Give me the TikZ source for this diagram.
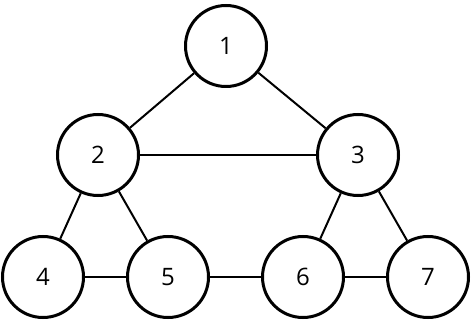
\documentclass[tikz,border=0pt]{standalone}
\usepackage{fontspec}
\setmainfont{Open Sans}
\begin{document}
\begin{tikzpicture}[
  x=1pt, y=-1pt,
  vertex/.style={circle, draw=black, line width=3pt, fill=white, minimum size=81pt, inner sep=0pt, font=\fontsize{24}{28}\selectfont},
  edge/.style={draw=black, line width=2pt}
]
\useasboundingbox (0,0) rectangle (471,320);

% ============================================================
% VERTICES
% ============================================================
\node[vertex] (n1) at (226,46) {1};
\node[vertex] (n2) at (98,155) {2};
\node[vertex] (n3) at (358,155) {3};
\node[vertex] (n4) at (43,277) {4};
\node[vertex] (n5) at (168,277) {5};
\node[vertex] (n6) at (303,277) {6};
\node[vertex] (n7) at (428,277) {7};

% ============================================================
% EDGES
% ============================================================
\begin{scope}[on background layer/.style={}]
\draw[edge] (n1) -- (n2);
\draw[edge] (n1) -- (n3);
\draw[edge] (n2) -- (n3);
\draw[edge] (n2) -- (n4);
\draw[edge] (n2) -- (n5);
\draw[edge] (n3) -- (n6);
\draw[edge] (n3) -- (n7);
\draw[edge] (n4) -- (n5);
\draw[edge] (n5) -- (n6);
\draw[edge] (n6) -- (n7);
\end{scope}

\end{tikzpicture}
\end{document}
